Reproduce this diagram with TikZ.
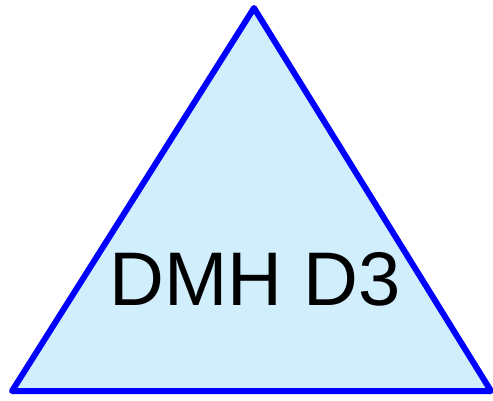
\documentclass[tikz,border=0pt]{standalone}
\usepackage{fontspec}
\setmainfont{Liberation Sans}
\usepackage{tikz}
\definecolor{triblue}{HTML}{0000FF}
\definecolor{trifill}{HTML}{D0EEFC}

\begin{document}
\begin{tikzpicture}[x = 1pt, y = -1pt,
    tri/.style = { draw = triblue, fill = trifill, line width = 6pt, line join = round },
    lbl/.style = { font = \fontsize{76}{80}\selectfont, inner sep = 0pt, anchor = base }]
    \useasboundingbox (0,0) rectangle (493,400);
    \coordinate (apex) at (254,8);
    \coordinate (left) at (12,391);
    \coordinate (right) at (491,391);
    \draw [tri] (apex) -- (left) -- (right) -- cycle;
    \node [lbl] (name) at (255,305) {DMH D3};
\end{tikzpicture}
\end{document}
